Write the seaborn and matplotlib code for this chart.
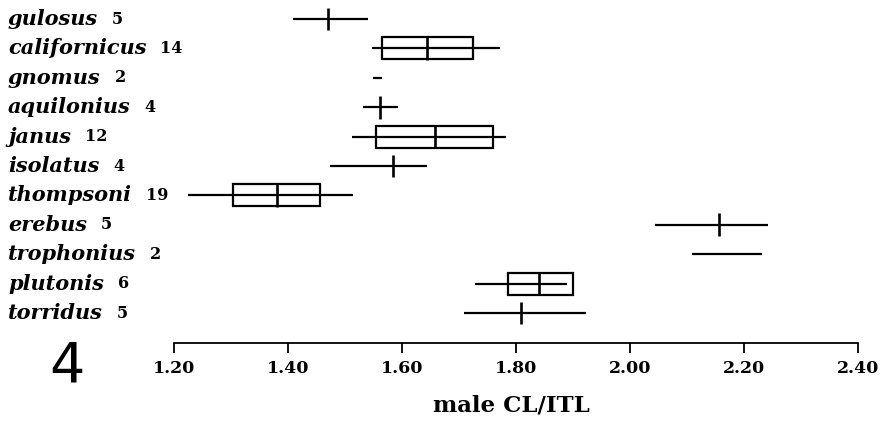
import numpy as np
import pandas as pd
import matplotlib
matplotlib.use("Agg")
import matplotlib.pyplot as plt
import matplotlib.transforms as mtransforms
import seaborn as sns

# values (male CL/ITL per species)
species = ["gulosus", "californicus", "gnomus", "aquilonius", "janus", "isolatus",
           "thompsoni", "erebus", "trophonius", "plutonis", "torridus"]
n_counts = [5, 14, 2, 4, 12, 4, 19, 5, 2, 6, 5]
range_lo = [1.409, 1.547, 1.549, 1.532, 1.512, 1.474, 1.225, 2.044, 2.109, 1.728, 1.709]
range_hi = [1.540, 1.772, 1.565, 1.593, 1.782, 1.644, 1.514, 2.242, 2.232, 1.889, 1.923]
medians = [1.470, 1.644, np.nan, 1.561, 1.658, 1.584, 1.381, 2.156, np.nan, 1.840, 1.809]
box_lo = [np.nan, 1.565, np.nan, np.nan, 1.554, np.nan, 1.304, np.nan, np.nan, 1.786, np.nan]
box_hi = [np.nan, 1.725, np.nan, np.nan, 1.760, np.nan, 1.456, np.nan, np.nan, 1.900, np.nan]
x_ticks = [1.20, 1.40, 1.60, 1.80, 2.00, 2.20, 2.40]
tick_labels = ["1.20", "1.40", "1.60", "1.80", "2.00", "2.20", "2.40"]

df = pd.DataFrame({
    "species": species, "n": n_counts, "lo": range_lo, "hi": range_hi,
    "med": medians, "q1": box_lo, "q3": box_hi,
})
df["row"] = np.arange(len(df))

sns.set_theme(style="white")
plt.rcParams["font.family"] = ["DejaVu Serif"]
plt.rcParams["text.color"] = "black"
plt.rcParams["xtick.color"] = "black"

fig = plt.figure(figsize=(8.87, 4.25), dpi=100)
ax = fig.add_axes([174 / 887, 82 / 425, 684 / 887, 343 / 425])

lw = 1.6
# range lines
ax.hlines(df["row"], df["lo"], df["hi"], color="black", lw=lw)
# boxes (only where quartiles exist)
boxes = df.dropna(subset=["q1", "q3"])
ax.barh(boxes["row"], boxes["q3"] - boxes["q1"], left=boxes["q1"], height=0.75,
        fill=False, edgecolor="black", linewidth=lw)
# medians
meds = df.dropna(subset=["med"])
ax.vlines(meds["med"], meds["row"] - 0.39, meds["row"] + 0.39, color="black", lw=lw + 0.3)

ax.set_xlim(1.2, 2.4)
ax.set_ylim(11.02, -0.646)
ax.set_yticks([])
ax.set_xticks(x_ticks)
ax.set_xticklabels(tick_labels, fontsize=12.5, fontweight="bold")
ax.tick_params(axis="x", direction="out", length=7, width=1.3, pad=5, bottom=True)
sns.despine(ax=ax, left=True, top=True, right=True)
ax.spines["bottom"].set_bounds(1.2, 2.4)
ax.spines["bottom"].set_linewidth(1.3)
ax.spines["bottom"].set_color("black")
ax.grid(False)

# species labels with sample sizes
trans = mtransforms.blended_transform_factory(fig.transFigure, ax.transData)
for _, r in df.iterrows():
    t = ax.text(8 / 887, r["row"], r["species"], transform=trans, fontsize=15,
                fontweight="bold", fontstyle="italic", va="center", ha="left")
    ax.annotate(str(r["n"]), xy=(1, 0), xycoords=t, xytext=(10, 1),
                textcoords="offset points", fontsize=11.5, fontweight="bold",
                va="bottom", ha="left")

fig.text(511 / 887, 1 - 405 / 425, "male CL/ITL", fontsize=16.5, fontweight="bold",
         ha="center", va="center")
fig.text(67 / 887, 1 - 366 / 425, "4", fontsize=40, family="DejaVu Sans",
         ha="center", va="center")

fig.savefig("out.png", dpi=100)
